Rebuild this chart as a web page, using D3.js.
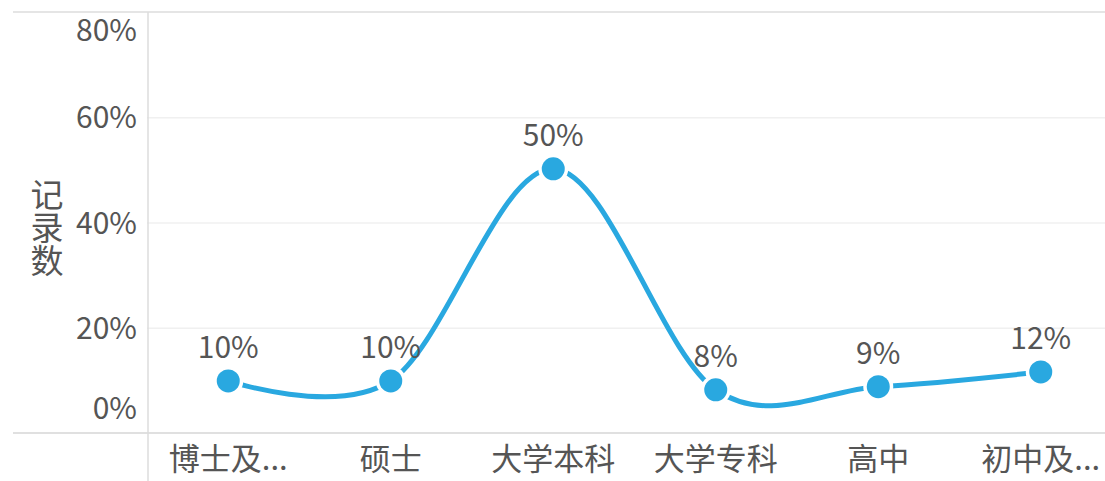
<!DOCTYPE html>
<html>
<head>
<meta charset="utf-8">
<script src="https://cdn.jsdelivr.net/npm/d3@7"></script>
<style>
  body { margin: 0; background: #fff; }
  svg text { font-family: "Noto Sans CJK SC", "Noto Sans", sans-serif; fill: #555; }
</style>
</head>
<body>
<div id="wrapper"></div>
<script>
// data
const categories = ["博士及...", "硕士", "大学本科", "大学专科", "高中", "初中及..."]
const shares = [0.099, 0.099, 0.502, 0.082, 0.088, 0.116]
const yTicks = [0, 0.2, 0.4, 0.6, 0.8]
const yTitle = "记录数"

const width = 1105
const height = 481
const dims = {
  left: 147,
  top: 12,
  bottom: 433,
  frameLeft: 13,
  band: 162.5,
}

const svg = d3.select("#wrapper")
  .append("svg")
  .attr("width", width)
  .attr("height", height)

const xScale = d3.scaleBand()
  .domain(categories)
  .range([dims.left, dims.left + dims.band * categories.length])

const yScale = d3.scaleLinear()
  .domain([0, 0.8])
  .range([dims.bottom, dims.top])

const xCenter = d => xScale(d) + xScale.bandwidth() / 2

// gridlines
svg.append("g")
  .attr("transform", `translate(${dims.left},0)`)
  .call(d3.axisLeft(yScale).tickValues([0.2, 0.4, 0.6]).tickSize(-(width - dims.left)).tickFormat(""))
  .call(g => g.select(".domain").remove())
  .call(g => g.selectAll(".tick line").attr("stroke", "#f0f0f0").attr("stroke-width", 1.5))

// frame lines
svg.append("line")
  .attr("x1", dims.frameLeft).attr("x2", width)
  .attr("y1", dims.top).attr("y2", dims.top)
  .attr("stroke", "#dcdcdc").attr("stroke-width", 1.5)
svg.append("line")
  .attr("x1", dims.frameLeft).attr("x2", width)
  .attr("y1", dims.bottom).attr("y2", dims.bottom)
  .attr("stroke", "#d6d6d6").attr("stroke-width", 1.5)
svg.append("line")
  .attr("x1", dims.left + 1).attr("x2", dims.left + 1)
  .attr("y1", dims.top).attr("y2", height)
  .attr("stroke", "#dcdcdc").attr("stroke-width", 1.5)

// y axis labels
const yAxis = svg.append("g")
  .attr("transform", `translate(${dims.left - 10},0)`)
  .call(d3.axisLeft(yScale).tickValues(yTicks).tickSize(0).tickPadding(0).tickFormat(d3.format(".0%")))
yAxis.select(".domain").remove()
yAxis.selectAll("text")
  .attr("font-size", 30)
  .attr("fill", "#555")
  .attr("dy", d => d === 0 ? "-0.5em" : d === 0.8 ? "0.95em" : "0.35em")

// y title, stacked upright
svg.append("text")
  .attr("x", 47)
  .attr("y", 178)
  .attr("font-size", 33)
  .style("writing-mode", "vertical-rl")
  .style("text-orientation", "upright")
  .text(yTitle)

// x axis labels
const xAxis = svg.append("g")
  .attr("transform", `translate(0,${dims.bottom})`)
  .call(d3.axisBottom(xScale).tickSize(0).tickPadding(0))
xAxis.select(".domain").remove()
xAxis.selectAll("text")
  .attr("font-size", 31)
  .attr("fill", "#555")
  .attr("dy", "1.2em")

// line
const lineGenerator = d3.line()
  .x((d, i) => xCenter(categories[i]))
  .y(d => yScale(d))
  .curve(d3.curveCardinal.tension(0))

svg.append("path")
  .attr("d", lineGenerator(shares))
  .attr("fill", "none")
  .attr("stroke", "#29a8e0")
  .attr("stroke-width", 5)
  .attr("stroke-linecap", "round")

// points
const points = svg.append("g")
  .selectAll("g")
  .data(shares)
  .join("g")
  .attr("transform", (d, i) => `translate(${xCenter(categories[i])},${yScale(d)})`)

points.append("circle")
  .attr("r", 15)
  .attr("fill", "#fff")
points.append("circle")
  .attr("r", 11.5)
  .attr("fill", "#29a8e0")

points.append("text")
  .attr("y", -23)
  .attr("text-anchor", "middle")
  .attr("font-size", 30)
  .text(d => d3.format(".0%")(d))
</script>
</body>
</html>
